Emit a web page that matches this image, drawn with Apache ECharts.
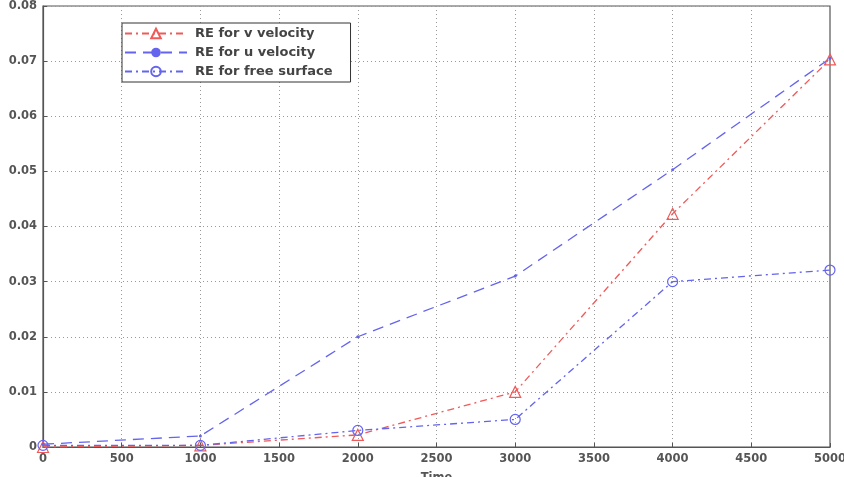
<!DOCTYPE html>
<html><head><meta charset="utf-8">
<script src="https://cdn.jsdelivr.net/npm/echarts@6/dist/echarts.min.js"></script>
<style>html,body{margin:0;padding:0;background:#fff}#c{width:844px;height:477px}</style>
</head><body><div id="c"></div>
<script>
const times = [0, 1000, 2000, 3000, 4000, 5000];
const vVelocity = [0.0, 0.0003, 0.0022, 0.0100, 0.0423, 0.0703];
const uVelocity = [0.0005, 0.0020, 0.0200, 0.0310, 0.0503, 0.0705];
const freeSurface = [0.0003, 0.0003, 0.0030, 0.0050, 0.0300, 0.0321];
const seriesNames = ['RE for v velocity', 'RE for u velocity', 'RE for free surface'];

const red = '#ef5a5a', blue = '#6464ee';
const font = 'DejaVu Sans, Liberation Sans, Arial';
const pairs = a => times.map((t, i) => [t, a[i]]);
const chart = echarts.init(document.getElementById('c'));
chart.setOption({
  animation: false,
  backgroundColor: '#fff',
  grid: {left: 43, right: 14, top: 6, bottom: 30, show: true, borderColor: '#555', borderWidth: 1.2,
         containLabel: false, outerBoundsMode: 'none'},
  legend: {
    orient: 'vertical', left: 122, top: 23, itemGap: 6, padding: [4, 18, 4, 2],
    backgroundColor: '#fff', borderColor: '#333', borderWidth: 1,
    itemWidth: 62, itemHeight: 12,
    textStyle: {fontFamily: font, fontSize: 13, color: '#444', fontWeight: 'bold', padding: [0, 0, 0, 3]},
    data: seriesNames
  },
  xAxis: {
    type: 'value', min: 0, max: 5000, interval: 500,
    name: 'Time', nameLocation: 'middle', nameGap: 25,
    nameTextStyle: {fontFamily: font, fontSize: 11.5, color: '#555', fontWeight: 'bold'},
    axisLine: {show: true, lineStyle: {color: '#555', width: 1.2}},
    axisTick: {inside: true, length: 4, lineStyle: {color: '#555'}},
    axisLabel: {fontFamily: font, fontSize: 11.5, color: '#555', fontWeight: 'bold', margin: 6,
      formatter: v => String(v)},
    splitLine: {show: true, lineStyle: {color: '#999', type: [1, 3], width: 1}}
  },
  yAxis: {
    type: 'value', min: 0, max: 0.08, interval: 0.01,
    axisLine: {show: true, lineStyle: {color: '#555', width: 1.2}},
    axisTick: {inside: true, length: 4, lineStyle: {color: '#555'}},
    axisLabel: {fontFamily: font, fontSize: 11.5, color: '#555', fontWeight: 'bold', margin: 6,
      formatter: v => v === 0 ? '0' : v.toFixed(2)},
    splitLine: {show: true, lineStyle: {color: '#999', type: [1, 3], width: 1}}
  },
  series: [
    {name: seriesNames[0], type: 'line', data: pairs(vVelocity),
     symbol: 'triangle', symbolSize: 11, showAllSymbol: true,
     lineStyle: {color: red, width: 1.3, type: [7, 4, 2, 4]},
     itemStyle: {color: 'rgba(255,255,255,0)', borderColor: red, borderWidth: 1.2}},
    {name: seriesNames[1], type: 'line', data: pairs(uVelocity),
     symbol: 'circle', symbolSize: 3,
     lineStyle: {color: blue, width: 1.3, type: [11, 7]},
     itemStyle: {color: blue, borderColor: blue, borderWidth: 0}},
    {name: seriesNames[2], type: 'line', data: pairs(freeSurface),
     symbol: 'circle', symbolSize: 10,
     lineStyle: {color: blue, width: 1.3, type: [7, 4, 2, 4]},
     itemStyle: {color: 'rgba(255,255,255,0)', borderColor: blue, borderWidth: 1.2}}
  ]
});
</script></body></html>
